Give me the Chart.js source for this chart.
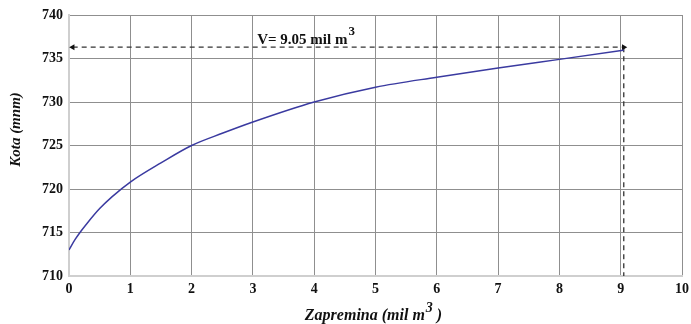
<!DOCTYPE html>
<html>
<head>
<meta charset="utf-8">
<script src="https://cdn.jsdelivr.net/npm/chart.js@4.4.0/dist/chart.umd.min.js"></script>
<style>
  html, body { margin: 0; padding: 0; background: #fff; }
  #wrap { width: 691px; height: 324px; }
</style>
</head>
<body>
<div id="wrap"><canvas id="myChart" width="691" height="324"></canvas></div>
<script>
// volume (mil m3) vs elevation (mnm)
const volume = [0, 0.1, 0.2, 0.3, 0.5, 0.7, 1, 1.5, 2, 2.5, 3, 4, 5, 6, 7, 8, 9.05];
const elevation = [713, 714.2, 715.2, 716.1, 717.75, 719.1, 720.8, 723.0, 725, 726.4, 727.7, 730, 731.7, 732.85, 733.9, 734.9, 735.95];

// marked volume and the dashed guide lines
const markVolume = 9.05;
const markLevel = 736.3;
const yBottom = 710;
const xTicks = [0, 1, 2, 3, 4, 5, 6, 7, 8, 9, 10];
const yTicks = [710, 715, 720, 725, 730, 735, 740];

const xTitle = ["Zapremina (mil m", "3", " )"];
const yTitle = "Kota (mnm)";

const serif = "'Liberation Serif', 'Times New Roman', serif";

const curve = volume.map((v, i) => ({ x: v, y: elevation[i] }));

// widths of text with a raised "3": [before, sup, after]
function supText(ctx, parts, size, supSize, style) {
  ctx.font = style + " " + size + "px " + serif;
  const w1 = ctx.measureText(parts[0]).width;
  const w3 = ctx.measureText(parts[2]).width;
  ctx.font = style + " " + supSize + "px " + serif;
  const w2 = ctx.measureText(parts[1]).width;
  return { w1: w1, w2: w2, w3: w3, total: w1 + w2 + w3 + 1 };
}

function drawSup(ctx, parts, x, y, size, supSize, rise, style) {
  const m = supText(ctx, parts, size, supSize, style);
  ctx.font = style + " " + size + "px " + serif;
  ctx.fillText(parts[0], x, y);
  ctx.font = style + " " + supSize + "px " + serif;
  ctx.fillText(parts[1], x + m.w1 + 1, y - rise);
  ctx.font = style + " " + size + "px " + serif;
  ctx.fillText(parts[2], x + m.w1 + m.w2 + 1, y);
  return m;
}

const labelPlugin = {
  id: "volumeLabel",
  afterDatasetsDraw(chart) {
    const ctx = chart.ctx;
    const xs = chart.scales.x;
    const ys = chart.scales.y;
    ctx.save();
    ctx.fillStyle = "#111";
    ctx.textBaseline = "alphabetic";
    ctx.textAlign = "left";

    // V= 9.05 mil m3
    const px = xs.getPixelForValue(3.07);
    const py = ys.getPixelForValue(736.67);
    drawSup(ctx, ["V= " + markVolume.toFixed(2) + " mil m", "3", ""], px, py, 15, 13, 9, "bold");

    // x axis title
    const m = supText(ctx, xTitle, 16, 14, "italic bold");
    const cx = (xs.left + xs.right) / 2 - 2;
    drawSup(ctx, xTitle, cx - m.total / 2, 320, 16, 14, 8, "italic bold");

    // y axis title
    ctx.translate(20, (ys.top + ys.bottom) / 2 - 16);
    ctx.rotate(-Math.PI / 2);
    ctx.textAlign = "center";
    ctx.font = "italic bold 15px " + serif;
    ctx.fillText(yTitle, 0, 0);
    ctx.restore();
  }
};

const config = {
  type: "scatter",
  data: {
    datasets: [
      {
        label: "curve",
        data: curve,
        showLine: true,
        borderColor: "#3a3aa0",
        borderWidth: 1.5,
        pointRadius: 0,
        cubicInterpolationMode: "monotone",
      },
      {
        label: "level",
        data: [{ x: 0.06, y: markLevel }, { x: markVolume, y: markLevel }],
        showLine: true,
        borderColor: "#333",
        borderWidth: 1.3,
        borderDash: [5, 4],
        pointStyle: "triangle",
        pointRotation: [-90, 90],
        pointRadius: 3.5,
        pointBackgroundColor: "#111",
        pointBorderColor: "#111",
        pointBorderWidth: 0,
      },
      {
        label: "volume",
        data: [{ x: markVolume, y: markLevel }, { x: markVolume, y: yBottom }],
        showLine: true,
        borderColor: "#333",
        borderWidth: 1.3,
        borderDash: [5, 4],
        pointRadius: 0,
      },
    ],
  },
  options: {
    responsive: false,
    animation: false,
    layout: { padding: { left: 0, right: 9, top: 15, bottom: 0 } },
    plugins: {
      legend: { display: false },
      tooltip: { enabled: false },
    },
    scales: {
      x: {
        type: "linear",
        min: 0,
        max: 10,
        afterBuildTicks: (s) => { s.ticks = xTicks.map((v) => ({ value: v })); },
        afterFit: (s) => { s.height = 48; s.paddingRight = 0; s.paddingLeft = 0; },
        grid: { color: "#8f8f8f", lineWidth: 1, drawTicks: false },
        border: { color: "#cfcfcf", width: 2 },
        ticks: {
          padding: 5,
          color: "#111",
          font: { family: serif, size: 14, weight: "bold" },
        },
      },
      y: {
        type: "linear",
        min: 710,
        max: 740,
        afterBuildTicks: (s) => { s.ticks = yTicks.map((v) => ({ value: v })); },
        afterFit: (s) => { s.width = 69; },
        grid: { color: "#8f8f8f", lineWidth: 1, drawTicks: false },
        border: { color: "#cfcfcf", width: 2 },
        ticks: {
          padding: 6,
          color: "#111",
          font: { family: serif, size: 14, weight: "bold" },
        },
      },
    },
  },
  plugins: [labelPlugin],
};

const myChart = new Chart(document.getElementById("myChart"), config);
</script>
</body>
</html>
